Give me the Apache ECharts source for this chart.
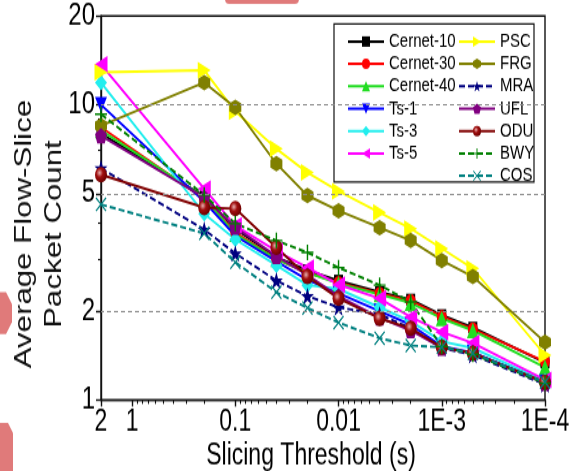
<!DOCTYPE html>
<html>
<head>
<meta charset="utf-8">
<script src="https://cdn.jsdelivr.net/npm/echarts@6/dist/echarts.min.js"></script>
<style>
html,body{margin:0;padding:0;background:#fff;width:569px;height:471px;}
#c{width:569px;height:362px;transform:scaleY(1.30110);transform-origin:0 0;}
</style>
</head>
<body>
<div id="c"></div>
<script>
const xValues = [2, 0.2, 0.1, 0.04, 0.02, 0.01, 0.004, 0.002, 0.001, 0.0005, 0.0001];
const xTickValues = [2, 1, 0.1, 0.01, 0.001, 0.0001];
const xTickLabels = ['2', '1', '0.1', '0.01', '1E-3', '1E-4'];
const yTickValues = [1, 2, 5, 10, 20];
const yTickLabels = ['1', '2', '5', '10', '20'];
const yGridValues = [2, 5, 10];
const seriesNames = ['Cernet-10','Cernet-30','Cernet-40','Ts-1','Ts-3','Ts-5','PSC','FRG','MRA','UFL','ODU','BWY','COS'];
const cernet10 = [8.0, 4.9, 3.8, 3.05, 2.75, 2.54, 2.32, 2.19, 1.94, 1.76, 1.34];
const cernet30 = [8.4, 4.8, 3.7, 3.0, 2.7, 2.5, 2.3, 2.17, 1.92, 1.74, 1.35];
const cernet40 = [8.2, 4.85, 3.65, 3.0, 2.7, 2.48, 2.28, 2.13, 1.89, 1.72, 1.29];
const ts1 = [10.0, 4.7, 3.6, 2.95, 2.55, 2.3, 2.0, 1.8, 1.52, 1.45, 1.15];
const ts3 = [11.9, 4.28, 3.5, 2.86, 2.45, 2.38, 2.06, 1.85, 1.58, 1.5, 1.16];
const ts5 = [13.7, 5.2, 3.9, 3.2, 2.81, 2.46, 2.21, 1.91, 1.70, 1.56, 1.17];
const psc = [12.9, 13.1, 9.5, 7.1, 5.9, 5.1, 4.32, 3.81, 3.26, 2.79, 1.42];
const frg = [8.5, 11.9, 9.8, 6.32, 4.93, 4.38, 3.84, 3.47, 2.97, 2.62, 1.57];
const mra = [6.1, 3.78, 3.14, 2.54, 2.25, 2.06, 1.95, 1.75, 1.50, 1.42, 1.13];
const ufl = [7.86, 4.85, 3.85, 3.07, 2.65, 2.25, 1.9, 1.72, 1.50, 1.45, 1.14];
const odu = [5.8, 4.49, 4.45, 3.29, 2.62, 2.21, 1.89, 1.75, 1.51, 1.44, 1.15];
const bwy = [9.3, 4.95, 3.96, 3.47, 3.16, 2.81, 2.45, 2.15, 1.52, 1.43, 1.14];
const cos = [4.6, 3.67, 2.93, 2.32, 2.05, 1.83, 1.62, 1.53, 1.51, 1.44, 1.15];
const seriesValues = [cernet10, cernet30, cernet40, ts1, ts3, ts5, psc, frg, mra, ufl, odu, bwy, cos];

const FONT = '"Liberation Sans",Arial,sans-serif';
const HEX = 'path://M8.66,0 L17.32,5 L17.32,15 L8.66,20 L0,15 L0,5 Z';
const PENT = 'path://M10,0 L19.5,6.9 L15.9,18.1 L4.1,18.1 L0.5,6.9 Z';
const STAR = 'path://M10,0 L12.36,6.9 L19.5,6.9 L13.8,11.2 L15.9,18.1 L10,13.9 L4.1,18.1 L6.2,11.2 L0.5,6.9 L7.64,6.9 Z';
const PLUS = 'path://M4.4,0 L5.6,0 L5.6,4.4 L10,4.4 L10,5.6 L5.6,5.6 L5.6,10 L4.4,10 L4.4,5.6 L0,5.6 L0,4.4 L4.4,4.4 Z';
const CROSS = 'path://M0,0.8 L0.8,0 L5,4.2 L9.2,0 L10,0.8 L5.8,5 L10,9.2 L9.2,10 L5,5.8 L0.8,10 L0,9.2 L4.2,5 Z';

const styles = [
  {color:'#000000', symbol:'rect', size:9},
  {color:'#ff0000', symbol:'circle', size:10},
  {color:'#22dd22', symbol:'triangle', size:12},
  {color:'#0000ff', symbol:'triangle', size:12, rot:180},
  {color:'#22eeee', symbol:'diamond', size:12},
  {color:'#ff00ff', symbol:'triangle', size:13, rot:90},
  {color:'#ffff00', symbol:'triangle', size:13, rot:-90},
  {color:'#808000', symbol:HEX, size:12},
  {color:'#000080', symbol:STAR, size:13, dash:true},
  {color:'#800080', symbol:PENT, size:12},
  {color:'#800000', symbol:'circle', size:12, grad:true},
  {color:'#008000', symbol:PLUS, size:12, dash:true},
  {color:'#008080', symbol:CROSS, size:11, dash:true}
];

const series = seriesNames.map((name, i) => {
  const st = styles[i];
  const itemColor = st.grad ? {type:'radial', x:0.38, y:0.38, r:0.62, colorStops:[{offset:0,color:'#e8b0b0'},{offset:0.45,color:'#a01010'},{offset:1,color:'#700000'}]} : st.color;
  const s = {
    name: name,
    type: 'line',
    data: xValues.map((x, j) => [x, seriesValues[i][j]]),
    symbol: st.symbol,
    symbolSize: st.size,
    symbolRotate: st.rot || 0,
    showAllSymbol: true,
    lineStyle: {color: st.color, width: 1.9, type: st.dash ? [6, 3] : 'solid'},
    itemStyle: {color: itemColor, borderWidth: 0},
    emphasis: {disabled: true},
    animation: false
  };
  if (i === 0) {
    s.markLine = {
      silent: true, symbol: 'none', animation: false,
      label: {show: false},
      lineStyle: {color: '#8c8c8c', type: [4, 3], width: 1},
      data: yGridValues.map(v => ({yAxis: v}))
    };
  }
  return s;
});

function labelOf(values, labels, v) {
  let best = 0, bd = Infinity;
  values.forEach((t, k) => { const d = Math.abs(Math.log10(v) - Math.log10(t)); if (d < bd) { bd = d; best = k; } });
  return labels[best];
}

const xMinor = [0.9,0.8,0.7,0.6,0.5,0.4,0.3,0.2, 0.09,0.08,0.07,0.06,0.05,0.04,0.03,0.02, 0.009,0.008,0.007,0.006,0.005,0.004,0.003,0.002, 0.0009,0.0008,0.0007,0.0006,0.0005,0.0004,0.0003,0.0002];
const yMinor = [3, 4, 6, 7, 8, 9];

const K = 1.3011;
const chart = echarts.init(document.getElementById('c'), null, {renderer: 'canvas', width: 569, height: 362});
chart.setOption({
  animation: false,
  backgroundColor: '#ffffff',
  grid: {left: 101, right: 24, top: 16 / K, bottom: 362 - 400 / K, outerBoundsMode: 'none', containLabel: false,
    show: true, borderColor: '#111', borderWidth: 1.4, backgroundColor: 'transparent'},
  xAxis: [{
    type: 'log', min: 0.0001, max: 2, inverse: true, position: 'bottom',
    axisLine: {show: true, lineStyle: {color: '#111', width: 1.4}},
    axisTick: {show: true, inside: false, length: 5, customValues: xTickValues, lineStyle: {color: '#111', width: 1.4}},
    axisLabel: {show: true, customValues: xTickValues, margin: 6, color: '#000', fontSize: 23, fontFamily: FONT,
      formatter: v => labelOf(xTickValues, xTickLabels, v)},
    splitLine: {show: false},
    name: 'Slicing Threshold (s)', nameLocation: 'middle', nameGap: 32, nameMoveOverlap: false,
    nameTextStyle: {color: '#000', fontSize: 23, fontFamily: FONT, padding: [0, 24, 0, 0]}
  }, {
    type: 'log', min: 0.0001, max: 2, inverse: true, position: 'bottom',
    axisLine: {show: false},
    axisTick: {show: true, inside: false, length: 3, customValues: xMinor, lineStyle: {color: '#111', width: 1.1}},
    axisLabel: {show: false},
    splitLine: {show: false}
  }],
  yAxis: [{
    type: 'log', min: 1, max: 20, position: 'left',
    axisLine: {show: true, lineStyle: {color: '#111', width: 1.4}},
    axisTick: {show: true, inside: false, length: 5, customValues: yTickValues, lineStyle: {color: '#111', width: 1.4}},
    axisLabel: {show: true, customValues: yTickValues, margin: 6, color: '#000', fontSize: 24, fontFamily: FONT,
      formatter: v => labelOf(yTickValues, yTickLabels, v)},
    splitLine: {show: false},
    name: 'Average Flow-Slice\nPacket Count', nameLocation: 'middle', nameGap: 32, nameRotate: 90, nameMoveOverlap: false,
    nameTextStyle: {color: '#111', fontSize: 24, fontFamily: FONT, lineHeight: 30, align: 'center', padding: [0, 40, 0, 0]}
  }, {
    type: 'log', min: 1, max: 20, position: 'left',
    axisLine: {show: false},
    axisTick: {show: true, inside: false, length: 3, customValues: yMinor, lineStyle: {color: '#111', width: 1.1}},
    axisLabel: {show: false},
    splitLine: {show: false}
  }],
  legend: [{
    orient: 'vertical', left: 342, top: 19.4, itemWidth: 36, itemHeight: 10, itemGap: 2.2,
    data: seriesNames.slice(0, 6),
    textStyle: {color: '#000', fontSize: 15, fontFamily: FONT, lineHeight: 15},
    selectedMode: false, z: 5
  }, {
    orient: 'vertical', left: 453, top: 19.4, itemWidth: 36, itemHeight: 10, itemGap: 2.2,
    data: seriesNames.slice(6),
    textStyle: {color: '#000', fontSize: 15, fontFamily: FONT, lineHeight: 15},
    selectedMode: false, z: 5
  }],
  graphic: [
    {type: 'rect', z: 4, shape: {x: 334, y: 24 / K, width: 200, height: 158 / K}, style: {fill: '#fff', stroke: '#111', lineWidth: 1.2}},
    {type: 'rect', z: 1, shape: {x: 225, y: -10, width: 74, height: 13, r: 4}, style: {fill: '#e07a7a'}},
    {type: 'polygon', z: 1, shape: {points: [[0, 292 / K], [6, 292 / K], [12, 304 / K], [12, 322 / K], [6, 334 / K], [0, 334 / K]]}, style: {fill: '#e07a7a'}},
    {type: 'polygon', z: 1, shape: {points: [[0, 423 / K], [8, 423 / K], [13, 433 / K], [13, 362], [0, 362]]}, style: {fill: '#e07a7a'}}
  ],
  series: series
});
</script>
</body>
</html>
